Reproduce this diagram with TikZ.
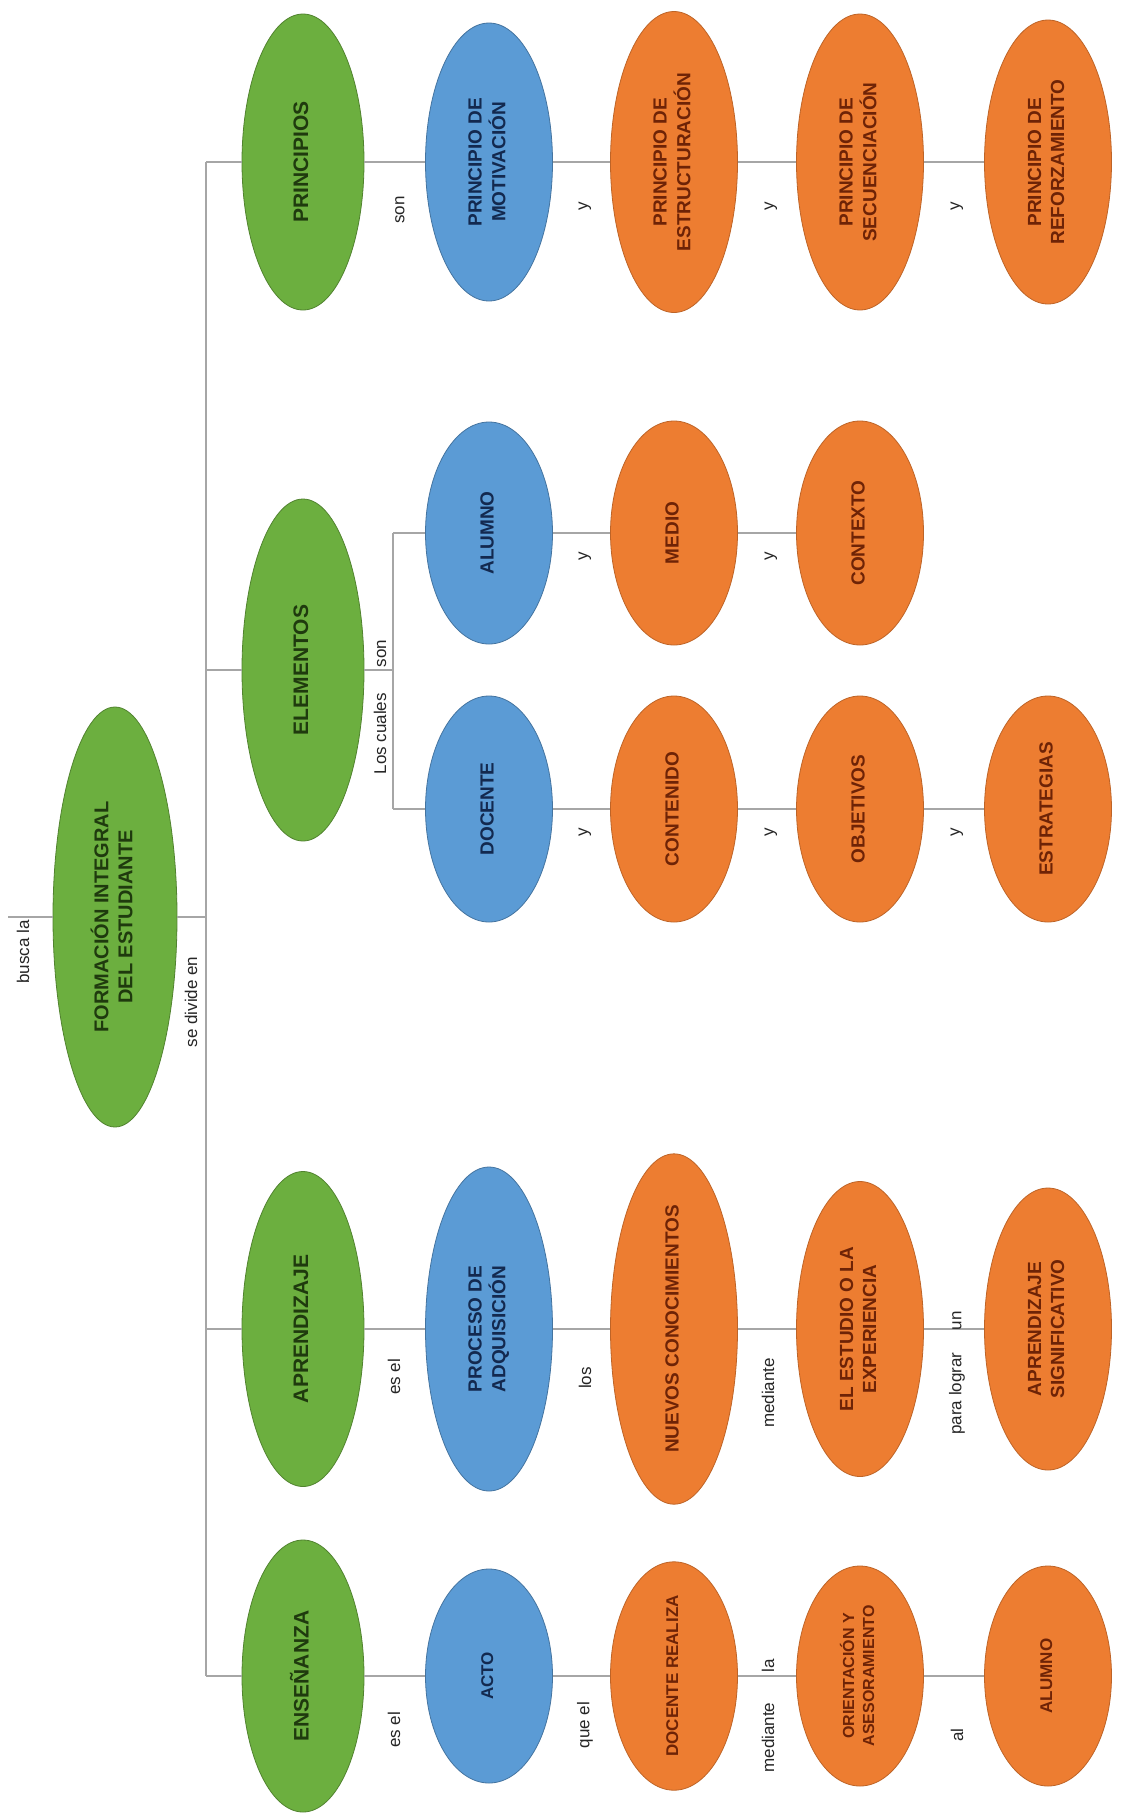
\documentclass[tikz,border=0pt]{standalone}
\usepackage{fontspec}
\setmainfont{Liberation Sans}
\usepackage{graphicx}
\usetikzlibrary{shapes.geometric}
\definecolor{cgreen}{HTML}{6CAF3F}
\definecolor{cblue}{HTML}{5B9BD5}
\definecolor{corange}{HTML}{ED7D31}
\definecolor{tgreen}{HTML}{1F3A0E}
\definecolor{tblue}{HTML}{13294F}
\definecolor{torange}{HTML}{6E2306}
\definecolor{cline}{HTML}{A6A6A6}
\newcommand{\rt}[1]{\rotatebox{90}{\begin{tabular}{@{}c@{}}#1\end{tabular}}}
\begin{document}
\begin{tikzpicture}[x=1pt,y=-1pt,
  ov/.style={ellipse, inner sep=0pt, line width=0.8pt, font=\bfseries\fontsize{19}{23}\selectfont},
  gnode/.style={ov, fill=cgreen, draw=cgreen!75!black, text=tgreen, font=\bfseries\fontsize{21}{25}\selectfont, minimum width=122pt},
  bnode/.style={ov, fill=cblue, draw=cblue!75!black, text=tblue, minimum width=127pt},
  onode/.style={ov, fill=corange, draw=corange!80!black, text=torange, minimum width=127pt},
  conn/.style={draw=cline, line width=1.8pt},
  lbl/.style={rotate=90, inner sep=1pt, font=\fontsize{17}{20}\selectfont, text=black!85}]
\useasboundingbox (0,0) rectangle (1140,1816);
\fill[white] (0,0) rectangle (1140,1816);

% root
\node[gnode, minimum width=124pt, minimum height=420pt, font=\bfseries\fontsize{20}{24}\selectfont] (root) at (115,917) {\rt{FORMACIÓN INTEGRAL\\DEL ESTUDIANTE}};

% level 1
\node[gnode, minimum height=296pt] (prin) at (303,162) {\rt{PRINCIPIOS}};
\node[gnode, minimum height=342pt] (elem) at (303,670) {\rt{ELEMENTOS}};
\node[gnode, minimum height=315pt] (apre) at (303,1329) {\rt{APRENDIZAJE}};
\node[gnode, minimum height=272pt] (ense) at (303,1676) {\rt{ENSEÑANZA}};

% principios row
\node[bnode, minimum height=278pt] (mot) at (489,162) {\rt{PRINCIPIO DE\\MOTIVACIÓN}};
\node[onode, minimum height=301pt] (est) at (674,162) {\rt{PRINCIPIO DE\\ESTRUCTURACIÓN}};
\node[onode, minimum height=296pt] (sec) at (860,162) {\rt{PRINCIPIO DE\\SECUENCIACIÓN}};
\node[onode, minimum height=284pt] (ref) at (1048,162) {\rt{PRINCIPIO DE\\REFORZAMIENTO}};

% elementos rows
\node[bnode, minimum height=222pt] (alu) at (489,533) {\rt{ALUMNO}};
\node[onode, minimum height=224pt] (med) at (674,533) {\rt{MEDIO}};
\node[onode, minimum height=224pt] (ctx) at (860,533) {\rt{CONTEXTO}};
\node[bnode, minimum height=226pt] (doc) at (489,809) {\rt{DOCENTE}};
\node[onode, minimum height=226pt] (cont) at (674,809) {\rt{CONTENIDO}};
\node[onode, minimum height=226pt] (obj) at (860,809) {\rt{OBJETIVOS}};
\node[onode, minimum height=226pt] (estr) at (1048,809) {\rt{ESTRATEGIAS}};

% aprendizaje row
\node[bnode, minimum height=324pt] (proc) at (489,1329) {\rt{PROCESO DE\\ADQUISICIÓN}};
\node[onode, minimum height=334pt] (nue) at (674,1329) {\rt{NUEVOS CONOCIMIENTOS}};
\node[onode, minimum height=295pt] (exp) at (860,1329) {\rt{EL ESTUDIO O LA\\EXPERIENCIA}};
\node[onode, minimum height=282pt] (sig) at (1048,1329) {\rt{APRENDIZAJE\\SIGNIFICATIVO}};

% ensenanza row
\node[bnode, minimum height=214pt, font=\bfseries\fontsize{17}{21}\selectfont] (acto) at (489,1676) {\rt{ACTO}};
\node[onode, minimum height=226pt, font=\bfseries\fontsize{17}{21}\selectfont] (dreal) at (674,1676) {\rt{DOCENTE REALIZA}};
\node[onode, minimum height=220pt, font=\bfseries\fontsize{16}{20}\selectfont] (ori) at (860,1676) {\rt{ORIENTACIÓN Y\\ASESORAMIENTO}};
\node[onode, minimum height=220pt, font=\bfseries\fontsize{17}{21}\selectfont] (alu2) at (1048,1676) {\rt{ALUMNO}};

% connector coordinates
\coordinate (top) at (8,917);
\coordinate (hub) at (206,917);
\coordinate (vtop) at (206,162);
\coordinate (vbot) at (206,1676);
\coordinate (vp) at (206,162);
\coordinate (ve) at (206,670);
\coordinate (va) at (206,1329);
\coordinate (vn) at (206,1676);
\coordinate (br) at (393,670);
\coordinate (brA) at (393,533);
\coordinate (brD) at (393,809);

% connectors
\draw[conn] (top) -- (root);
\draw[conn] (root) -- (hub);
\draw[conn] (vtop) -- (vbot);
\draw[conn] (vp) -- (prin);
\draw[conn] (ve) -- (elem);
\draw[conn] (va) -- (apre);
\draw[conn] (vn) -- (ense);

\draw[conn] (prin) -- (mot);
\draw[conn] (mot) -- (est);
\draw[conn] (est) -- (sec);
\draw[conn] (sec) -- (ref);

\draw[conn] (elem) -- (br);
\draw[conn] (brA) -- (brD);
\draw[conn] (brA) -- (alu);
\draw[conn] (brD) -- (doc);
\draw[conn] (alu) -- (med);
\draw[conn] (med) -- (ctx);
\draw[conn] (doc) -- (cont);
\draw[conn] (cont) -- (obj);
\draw[conn] (obj) -- (estr);

\draw[conn] (apre) -- (proc);
\draw[conn] (proc) -- (nue);
\draw[conn] (nue) -- (exp);
\draw[conn] (exp) -- (sig);

\draw[conn] (ense) -- (acto);
\draw[conn] (acto) -- (dreal);
\draw[conn] (dreal) -- (ori);
\draw[conn] (ori) -- (alu2);

% labels
\node[lbl] (l1) at (23,952) {busca la};
\node[lbl] (l2) at (191,1002) {se divide en};
\node[lbl] (l3) at (400,210) {son};
\node[lbl] (l4) at (585,206) {y};
\node[lbl] (l5) at (771,206) {y};
\node[lbl] (l6) at (957,206) {y};
\node[lbl] (l7) at (380,707) {Los cuales\hspace{26pt}son};
\node[lbl] (l8) at (585,556) {y};
\node[lbl] (l9) at (771,556) {y};
\node[lbl] (l10) at (585,832) {y};
\node[lbl] (l11) at (771,832) {y};
\node[lbl] (l12) at (957,832) {y};
\node[lbl] (l13) at (394,1377) {es el};
\node[lbl] (l14) at (585,1378) {los};
\node[lbl] (l15) at (768,1393) {mediante};
\node[lbl] (l16) at (957,1373) {para lograr\hspace{22pt}un};
\node[lbl] (l17) at (394,1730) {es el};
\node[lbl] (l18) at (585,1725) {que el};
\node[lbl] (l19) at (768,1716) {mediante\hspace{30pt}la};
\node[lbl] (l20) at (957,1735) {al};
\end{tikzpicture}
\end{document}
